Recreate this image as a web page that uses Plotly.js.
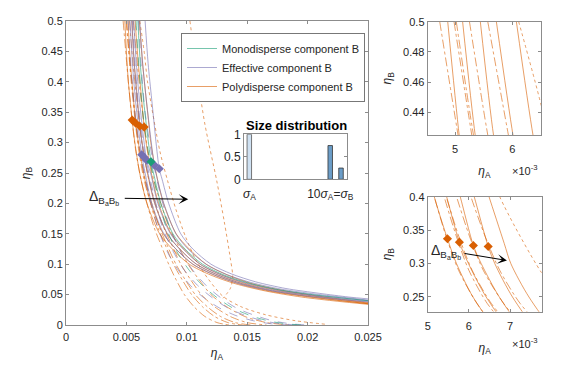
<!DOCTYPE html>
<html>
<head>
<meta charset="utf-8">
<script src="https://cdn.plot.ly/plotly-3.0.1.min.js"></script>
<style>html,body{margin:0;padding:0;background:#fff;}#chart{width:586px;height:366px;}</style>
</head>
<body>
<div id="chart"></div>
<script>
// ---------- DATA ----------
// Polydisperse component B, solid curves (x = eta_A, y = eta_B)
const polySolidX = [
  [4.87e-3,5.07e-3,5.16e-3,5.48e-3,5.70e-3,6.10e-3,6.70e-3,7.75e-3,8.80e-3,10.2e-3,12.0e-3,14.0e-3,16.5e-3,19.5e-3,22.5e-3,25.0e-3],
  [5.13e-3,5.35e-3,5.46e-3,5.77e-3,5.99e-3,6.42e-3,7.02e-3,8.05e-3,9.10e-3,10.5e-3,12.3e-3,14.3e-3,16.8e-3,19.8e-3,22.7e-3,25.0e-3],
  [5.44e-3,5.67e-3,5.79e-3,6.11e-3,6.30e-3,6.74e-3,7.34e-3,8.38e-3,9.42e-3,10.8e-3,12.6e-3,14.6e-3,17.1e-3,20.0e-3,22.9e-3,25.0e-3],
  [5.72e-3,6.01e-3,6.13e-3,6.47e-3,6.63e-3,7.06e-3,7.66e-3,8.70e-3,9.75e-3,11.1e-3,12.9e-3,14.9e-3,17.4e-3,20.3e-3,23.1e-3,25.0e-3],
  [6.07e-3,6.36e-3,6.49e-3,6.86e-3,7.02e-3,7.46e-3,8.07e-3,9.12e-3,10.2e-3,11.6e-3,13.4e-3,15.4e-3,17.9e-3,20.7e-3,23.4e-3,25.0e-3]
];
const polySolidY = [
  [0.5,0.425,0.4,0.337,0.3,0.25,0.2,0.15,0.125,0.1,0.082,0.068,0.056,0.046,0.039,0.034],
  [0.5,0.425,0.4,0.332,0.3,0.25,0.2,0.15,0.125,0.1,0.082,0.068,0.056,0.047,0.040,0.035],
  [0.5,0.425,0.4,0.327,0.3,0.25,0.2,0.15,0.125,0.1,0.082,0.068,0.056,0.047,0.040,0.035],
  [0.5,0.425,0.4,0.3255,0.3,0.25,0.2,0.15,0.125,0.1,0.082,0.068,0.057,0.048,0.041,0.036],
  [0.5,0.425,0.4,0.33,0.3,0.25,0.2,0.15,0.125,0.1,0.082,0.068,0.057,0.048,0.041,0.037]
];
// Polydisperse component B, dash-dot curves
const polyDashX = [
  [4.73e-3,5.05e-3,5.16e-3,5.45e-3,5.75e-3,6.20e-3,6.70e-3,7.30e-3,7.90e-3,8.50e-3,9.10e-3,9.80e-3,10.6e-3,11.5e-3,12.5e-3,13.5e-3],
  [4.98e-3,5.29e-3,5.40e-3,5.70e-3,6.00e-3,6.45e-3,7.00e-3,7.60e-3,8.25e-3,8.90e-3,9.60e-3,10.4e-3,11.3e-3,12.3e-3,13.4e-3,14.6e-3],
  [5.02e-3,5.32e-3,5.45e-3,5.76e-3,6.08e-3,6.55e-3,7.10e-3,7.75e-3,8.40e-3,9.10e-3,9.85e-3,10.7e-3,11.7e-3,12.8e-3,14.0e-3,15.3e-3],
  [5.25e-3,5.57e-3,5.70e-3,6.02e-3,6.35e-3,6.85e-3,7.40e-3,8.10e-3,8.80e-3,9.50e-3,10.3e-3,11.2e-3,12.3e-3,13.6e-3,15.0e-3,16.6e-3],
  [5.57e-3,5.93e-3,6.05e-3,6.40e-3,6.75e-3,7.25e-3,7.85e-3,8.55e-3,9.30e-3,10.1e-3,11.0e-3,12.0e-3,13.3e-3,14.8e-3,16.6e-3,18.5e-3]
];
const polyDashY = [0.5,0.425,0.4,0.34,0.29,0.24,0.2,0.16,0.13,0.1,0.075,0.05,0.03,0.014,0.004,0.0];
// Polydisperse component B, dotted curves
const polyDotX = [
  [10.26e-3,10.8e-3,11.5e-3,12.47e-3,13.1e-3,13.6e-3,13.8e-3,13.6e-3,13.0e-3],
  [6.11e-3,6.50e-3,6.75e-3,7.77e-3,8.40e-3,9.10e-3,9.90e-3,10.8e-3,11.8e-3,13.0e-3,14.5e-3,16.5e-3,19.0e-3,21.6e-3]
];
const polyDotY = [
  [0.5,0.42,0.33,0.238,0.17,0.11,0.079,0.06,0.044],
  [0.5,0.445,0.4,0.286,0.238,0.19,0.145,0.105,0.075,0.047,0.03,0.017,0.007,0.001]
];
// Effective component B
const effSolidX = [
  [5.30e-3,5.50e-3,5.75e-3,6.27e-3,6.55e-3,7.10e-3,8.10e-3,9.10e-3,10.5e-3,12.3e-3,14.3e-3,16.8e-3,19.8e-3,22.6e-3,25.0e-3],
  [5.45e-3,5.65e-3,5.90e-3,6.46e-3,6.78e-3,7.35e-3,8.40e-3,9.40e-3,10.8e-3,12.6e-3,14.6e-3,17.1e-3,20.0e-3,22.8e-3,25.0e-3],
  [5.60e-3,5.82e-3,6.08e-3,6.68e-3,7.00e-3,7.60e-3,8.65e-3,9.70e-3,11.1e-3,12.9e-3,14.9e-3,17.4e-3,20.2e-3,23.0e-3,25.0e-3],
  [6.10e-3,6.35e-3,6.65e-3,7.31e-3,7.50e-3,8.10e-3,9.10e-3,10.1e-3,11.6e-3,13.3e-3,15.3e-3,17.8e-3,20.6e-3,23.2e-3,25.0e-3],
  [6.55e-3,6.80e-3,7.10e-3,7.72e-3,7.95e-3,8.50e-3,9.50e-3,10.5e-3,12.0e-3,13.7e-3,15.7e-3,18.2e-3,21.0e-3,23.4e-3,25.0e-3]
];
const effSolidY = [
  [0.5,0.43,0.37,0.280,0.25,0.2,0.15,0.125,0.1,0.082,0.068,0.057,0.048,0.042,0.038],
  [0.5,0.43,0.37,0.276,0.25,0.2,0.15,0.125,0.1,0.082,0.068,0.057,0.049,0.043,0.039],
  [0.5,0.43,0.37,0.271,0.25,0.2,0.15,0.125,0.1,0.082,0.069,0.058,0.050,0.044,0.040],
  [0.5,0.43,0.37,0.263,0.245,0.2,0.15,0.125,0.1,0.083,0.070,0.059,0.051,0.045,0.041],
  [0.5,0.43,0.37,0.257,0.24,0.2,0.15,0.125,0.1,0.084,0.071,0.060,0.052,0.046,0.043]
];
const effDashX = [
  [5.15e-3,5.40e-3,5.70e-3,6.20e-3,6.80e-3,7.60e-3,8.40e-3,9.30e-3,10.3e-3,11.4e-3,12.7e-3,14.0e-3,15.5e-3,17.0e-3,18.5e-3],
  [5.50e-3,5.75e-3,6.05e-3,6.55e-3,7.20e-3,8.00e-3,8.90e-3,9.80e-3,10.9e-3,12.1e-3,13.4e-3,14.8e-3,16.3e-3,17.8e-3,19.3e-3],
  [6.00e-3,6.25e-3,6.55e-3,7.10e-3,7.75e-3,8.60e-3,9.50e-3,10.5e-3,11.6e-3,12.8e-3,14.1e-3,15.6e-3,17.1e-3,18.6e-3,20.0e-3]
];
const effDashY = [0.5,0.42,0.35,0.28,0.22,0.16,0.12,0.09,0.065,0.045,0.028,0.016,0.007,0.002,0.0];
// Monodisperse component B
const monoSolidX = [5.95e-3,6.15e-3,6.42e-3,7.04e-3,7.30e-3,7.85e-3,8.85e-3,9.85e-3,11.3e-3,13.1e-3,15.1e-3,17.6e-3,20.4e-3,23.1e-3,25.0e-3];
const monoSolidY = [0.5,0.43,0.37,0.2686,0.245,0.2,0.15,0.125,0.1,0.082,0.069,0.058,0.050,0.044,0.040];
const monoDashX = [5.80e-3,6.05e-3,6.35e-3,6.85e-3,7.50e-3,8.30e-3,9.20e-3,10.2e-3,11.3e-3,12.5e-3,13.8e-3,15.2e-3,16.7e-3,18.2e-3,19.6e-3];
const monoDashY = [0.5,0.42,0.35,0.28,0.22,0.16,0.12,0.09,0.065,0.045,0.028,0.016,0.007,0.002,0.0];
// Diamond markers
const polyMarkX = [5.48e-3,5.77e-3,6.11e-3,6.47e-3];
const polyMarkY = [0.337,0.332,0.327,0.3255];
const effMarkX = [6.27e-3,6.46e-3,6.68e-3,7.31e-3,7.72e-3];
const effMarkY = [0.280,0.276,0.271,0.263,0.257];
const monoMarkX = [7.04e-3];
const monoMarkY = [0.2686];
// Size distribution inset
const sizeA_X = [1];
const sizeA_Y = [1];
const sizeB_X = [10, 11.2];
const sizeB_Y = [0.75, 0.25];
const sizeTickVals = [1, 10];
const sizeTickText = ['<i>σ</i><sub>A</sub>', '10<i>σ</i><sub>A</sub>=<i>σ</i><sub>B</sub>'];

// ---------- STYLE ----------
const ORANGE = 'rgba(217,95,2,0.6)';
const PURPLE = 'rgba(117,112,179,0.6)';
const TEAL = 'rgba(27,158,119,0.6)';
const FONT = 'Liberation Sans, Arial, sans-serif';
const TXT = '#262626';
const AXC = '#8c8c8c';

const traces = [];
function addLine(x, y, color, dash, xa, ya, opts) {
  const t = Object.assign({
    type: 'scatter', mode: 'lines', x: x, y: y, xaxis: xa, yaxis: ya,
    line: {color: color, width: 1, dash: dash, shape: 'spline', smoothing: 0.8},
    showlegend: false, hoverinfo: 'skip', cliponaxis: true
  }, opts || {});
  traces.push(t);
}
const polyAxes = [['x','y'],['x2','y2'],['x3','y3']];
polyAxes.forEach(function(a) {
  polyDashX.forEach(function(x){ addLine(x, polyDashY, ORANGE, 'dashdot', a[0], a[1]); });
  polyDotX.forEach(function(x, i){ addLine(x, polyDotY[i], ORANGE, 'dot', a[0], a[1]); });
  polySolidX.forEach(function(x, i){
    const o = (a[0]==='x' && i===0) ? {showlegend:true, name:'Polydisperse component B', legendrank:3} : {};
    addLine(x, polySolidY[i], ORANGE, 'solid', a[0], a[1], o);
  });
});
effDashX.forEach(function(x){ addLine(x, effDashY, PURPLE, 'dash', 'x', 'y'); });
effSolidX.forEach(function(x, i){
  const o = i===0 ? {showlegend:true, name:'Effective component B', legendrank:2} : {};
  addLine(x, effSolidY[i], PURPLE, 'solid', 'x', 'y', o);
});
addLine(monoDashX, monoDashY, TEAL, 'dash', 'x', 'y');
addLine(monoSolidX, monoSolidY, TEAL, 'solid', 'x', 'y', {showlegend:true, name:'Monodisperse component B', legendrank:1});

function addMarks(x, y, color, xa, ya) {
  traces.push({type:'scatter', mode:'markers', x:x, y:y, xaxis:xa, yaxis:ya,
    marker:{symbol:'diamond', size:7, color:color}, showlegend:false, hoverinfo:'skip'});
}
addMarks(polyMarkX, polyMarkY, '#d95f02', 'x', 'y');
addMarks(effMarkX, effMarkY, '#7570b3', 'x', 'y');
addMarks(monoMarkX, monoMarkY, '#1b9e77', 'x', 'y');
addMarks(polyMarkX, polyMarkY, '#d95f02', 'x3', 'y3');

traces.push({type:'bar', x:sizeA_X, y:sizeA_Y, xaxis:'x4', yaxis:'y4', width:0.5,
  marker:{color:'#cfe1f2', line:{color:'#555', width:0.8}}, showlegend:false, hoverinfo:'skip'});
traces.push({type:'bar', x:sizeB_X, y:sizeB_Y, xaxis:'x4', yaxis:'y4', width:0.5,
  marker:{color:'#6b9dc8', line:{color:'#333', width:0.8}}, showlegend:false, hoverinfo:'skip'});

function axis(extra) {
  return Object.assign({
    showline:true, mirror:'ticks', linecolor:AXC, linewidth:1, ticks:'inside', ticklen:3,
    tickcolor:AXC, tickwidth:1, showgrid:false, zeroline:false, fixedrange:true,
    tickfont:{family:FONT, size:11, color:TXT}
  }, extra);
}
const W = 586, H = 366;
const px = v => v / W, py = v => 1 - v / H;
const titleFont = {family:FONT, size:12, color:TXT};

const layout = {
  width: W, height: H, margin:{l:0,r:0,t:0,b:0},
  paper_bgcolor:'#fff', plot_bgcolor:'#fff',
  font:{family:FONT, color:TXT, size:11},
  showlegend:true,
  legend:{x:px(181), y:py(33), xanchor:'left', yanchor:'top', bgcolor:'#fff',
    bordercolor:'#777', borderwidth:1, font:{family:FONT, size:11, color:TXT},
    tracegroupgap:0, itemwidth:30},
  xaxis: axis({domain:[px(66), px(368)], range:[0,0.025], dtick:0.005, tick0:0, anchor:'y',
    ticklabelstandoff:2,
    title:{text:'<i>η</i><sub>A</sub>', font:titleFont, standoff:6}}),
  yaxis: axis({domain:[py(325), py(21)], range:[0,0.5], dtick:0.05, tick0:0, anchor:'x',
    title:{text:'<i>η</i><sub>B</sub>', font:titleFont, standoff:8}}),
  xaxis2: axis({domain:[px(427.7), px(541)], range:[4.52e-3,6.5e-3], anchor:'y2',
    tickvals:[5e-3,6e-3], ticktext:['5','6'], ticklabelstandoff:4,
    title:{text:'<i>η</i><sub>A</sub>', font:titleFont, standoff:12}}),
  yaxis2: axis({domain:[py(135), py(21.7)], range:[0.425,0.5], anchor:'x2',
    tickvals:[0.44,0.46,0.48,0.5], ticktext:['0.44','0.46','0.48','0.5'],
    title:{text:'<i>η</i><sub>B</sub>', font:titleFont, standoff:8}}),
  xaxis3: axis({domain:[px(427.7), px(541.7)], range:[5e-3,7.77e-3], anchor:'y3',
    tickvals:[5e-3,6e-3,7e-3], ticktext:['5','6','7'], ticklabelstandoff:4,
    title:{text:'<i>η</i><sub>A</sub>', font:titleFont, standoff:12}}),
  yaxis3: axis({domain:[py(311.7), py(196.7)], range:[0.228,0.4], anchor:'x3',
    tickvals:[0.25,0.3,0.35,0.4], ticktext:['0.25','0.3','0.35','0.4'],
    title:{text:'<i>η</i><sub>B</sub>', font:titleFont, standoff:8}}),
  xaxis4: axis({domain:[px(244), px(347.3)], range:[0.41,11.9], anchor:'y4',
    tickvals:sizeTickVals, ticktext:sizeTickText, ticklen:0, ticklabelstandoff:3,
    tickfont:{family:FONT, size:12, color:TXT}}),
  yaxis4: axis({domain:[py(179.3), py(134.3)], range:[0,1], anchor:'x4',
    tickvals:[0,0.5,1], ticktext:['0','0.5','1'], tickfont:{family:FONT, size:12, color:TXT}}),
  annotations: [
    {xref:'paper', yref:'paper', x:px(296), y:py(125), text:'<b>Size distribution</b>', showarrow:false,
      font:{family:FONT, size:13, color:'#000'}, xanchor:'center', yanchor:'middle'},
    {xref:'x', yref:'y', axref:'x', ayref:'y', x:10.12e-3, y:0.2068, ax:4.74e-3, ay:0.2084,
      text:'', showarrow:true, arrowhead:3, arrowsize:1.6, arrowwidth:1, arrowcolor:'#000'},
    {xref:'x', yref:'y', x:3.15e-3, y:0.209, text:'Δ<sub>B<sub>a</sub>B<sub>b</sub></sub>', showarrow:false,
      font:{family:FONT, size:14, color:TXT}, xanchor:'center', yanchor:'middle'},
    {xref:'x3', yref:'y3', axref:'x3', ayref:'y3', x:6.925e-3, y:0.3046, ax:5.857e-3, ay:0.3155,
      text:'', showarrow:true, arrowhead:3, arrowsize:1.6, arrowwidth:1, arrowcolor:'#000'},
    {xref:'x3', yref:'y3', x:5.44e-3, y:0.3175, text:'Δ<sub>B<sub>a</sub>B<sub>b</sub></sub>', showarrow:false,
      font:{family:FONT, size:14, color:TXT}, xanchor:'center', yanchor:'middle'},
    {xref:'paper', yref:'paper', x:px(525), y:py(170), text:'×10<sup>-3</sup>', showarrow:false,
      font:{family:FONT, size:11, color:TXT}, xanchor:'center', yanchor:'middle'},
    {xref:'paper', yref:'paper', x:px(525), y:py(343), text:'×10<sup>-3</sup>', showarrow:false,
      font:{family:FONT, size:11, color:TXT}, xanchor:'center', yanchor:'middle'}
  ]
};

Plotly.newPlot('chart', traces, layout, {staticPlot:true, displayModeBar:false});
</script>
</body>
</html>
